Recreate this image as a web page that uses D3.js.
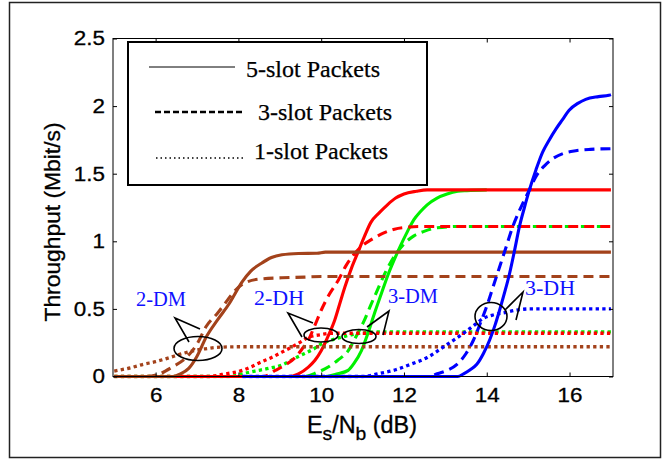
<!DOCTYPE html>
<html>
<head>
<meta charset="utf-8">
<script src="https://cdn.jsdelivr.net/npm/d3@7/dist/d3.min.js"></script>
<style>
  body { margin: 0; background: #fff; }
  svg { display: block; }
</style>
</head>
<body>
<svg id="chart" width="664" height="459"></svg>
<script>
// axis ticks
var xTicks = [6, 8, 10, 12, 14, 16];
var yTicks = [0, 0.5, 1, 1.5, 2, 2.5];

// 2-DM (brown)
var dm2Solid  = [[5,0],[6.4,0],[6.6,0.02],[6.8,0.06],[7.0,0.15],[7.22,0.29],[7.5,0.42],[7.78,0.54],[8.09,0.7],[8.3,0.78],[8.57,0.84],[8.8,0.88],[9.05,0.9],[9.45,0.91],[9.9,0.912],[10.1,0.92],[17,0.92]];
var dm2Dashed = [[5,0],[5.8,0],[6.1,0.02],[6.4,0.07],[6.74,0.14],[7.0,0.24],[7.22,0.37],[7.5,0.47],[7.7,0.55],[7.9,0.63],[8.09,0.68],[8.49,0.72],[9.05,0.73],[9.6,0.735],[10,0.74],[17,0.74]];
var dm2Dotted = [[5,0.04],[5.4,0.065],[5.7,0.09],[6.0,0.11],[6.34,0.14],[6.6,0.165],[6.9,0.19],[7.2,0.205],[7.46,0.215],[8,0.22],[17,0.22]];

// 2-DH (red)
var dh2Solid  = [[5,0],[9.2,0],[9.45,0.02],[9.69,0.07],[9.85,0.12],[10.0,0.19],[10.17,0.3],[10.33,0.42],[10.45,0.54],[10.57,0.66],[10.73,0.8],[10.89,0.92],[11.05,1.04],[11.2,1.14],[11.4,1.21],[11.6,1.27],[11.8,1.32],[12.0,1.35],[12.3,1.37],[12.56,1.38],[17,1.38]];
var dh2Dashed = [[5,0],[8.6,0],[8.89,0.045],[9.1,0.08],[9.37,0.14],[9.53,0.2],[9.69,0.27],[9.85,0.38],[10.0,0.49],[10.2,0.61],[10.41,0.71],[10.6,0.82],[10.81,0.91],[11.0,0.97],[11.2,1.01],[11.5,1.06],[11.77,1.09],[12.1,1.105],[12.4,1.11],[17,1.11]];
var dh2Dotted = [[5,0],[7.3,0],[7.6,0.015],[8.09,0.045],[8.3,0.07],[8.57,0.11],[8.8,0.14],[9.05,0.18],[9.3,0.22],[9.53,0.26],[9.69,0.29],[10.0,0.31],[10.25,0.32],[17,0.32]];

// 3-DM (green)
var dm3Solid  = [[5,0],[10.1,0],[10.4,0.02],[10.65,0.045],[10.8,0.1],[10.97,0.19],[11.13,0.32],[11.29,0.47],[11.45,0.61],[11.6,0.74],[11.76,0.86],[11.92,0.97],[12.08,1.07],[12.24,1.16],[12.4,1.22],[12.56,1.27],[12.8,1.32],[13.04,1.35],[13.3,1.37],[13.52,1.375],[14,1.38]];
var dm3Dashed = [[5,0],[9.6,0],[9.9,0.03],[10.17,0.07],[10.4,0.12],[10.65,0.19],[10.85,0.3],[11.05,0.42],[11.2,0.53],[11.36,0.64],[11.55,0.77],[11.77,0.89],[12.0,0.98],[12.24,1.04],[12.5,1.075],[12.8,1.1],[13.36,1.11],[17,1.11]];
var dm3Dotted = [[5,0],[7.8,0],[8.09,0.02],[8.4,0.04],[8.73,0.06],[9.05,0.085],[9.4,0.14],[9.6,0.17],[9.8,0.2],[10.0,0.24],[10.25,0.27],[10.49,0.29],[10.75,0.31],[11.05,0.325],[11.5,0.33],[17,0.33]];

// 3-DH (blue)
var dh3Solid  = [[8.1,0],[13.3,0],[13.44,0.02],[13.6,0.05],[13.76,0.09],[13.92,0.17],[14.07,0.27],[14.2,0.38],[14.31,0.49],[14.43,0.62],[14.55,0.76],[14.67,0.93],[14.79,1.11],[14.91,1.25],[15.03,1.38],[15.19,1.53],[15.35,1.66],[15.51,1.75],[15.67,1.83],[15.83,1.9],[15.99,1.97],[16.2,2.02],[16.39,2.05],[16.7,2.07],[16.95,2.08],[17,2.085]];
var dh3Dashed = [[8.1,0],[12.6,0],[12.8,0.02],[13.0,0.04],[13.28,0.09],[13.5,0.17],[13.68,0.27],[13.84,0.39],[14.0,0.52],[14.15,0.66],[14.31,0.81],[14.47,0.96],[14.63,1.11],[14.75,1.2],[14.87,1.28],[15.03,1.38],[15.19,1.48],[15.4,1.56],[15.59,1.61],[15.85,1.65],[16.15,1.67],[16.5,1.68],[17,1.685]];
var dh3Dotted = [[8.1,0],[11.0,0],[11.36,0.02],[11.8,0.05],[12.16,0.09],[12.56,0.14],[12.96,0.22],[13.44,0.32],[13.7,0.38],[13.92,0.43],[14.15,0.455],[14.4,0.47],[14.7,0.49],[15.03,0.5],[17,0.5]];

var legendLabels = ["5-slot Packets", "3-slot Packets", "1-slot Packets"];

var brown = "#a3421b", red = "#ff0000", green = "#00f000", blue = "#0000ff";
var dashes = { solid: null, dashed: "10,6", dotted: "3.3,3.3" };

// drawing order, last on top
var series = [
  { data: dm3Dotted, color: green, style: "dotted" },
  { data: dm3Dashed, color: green, style: "dashed" },
  { data: dm3Solid,  color: green, style: "solid" },
  { data: dh2Dotted, color: red,   style: "dotted" },
  { data: dh2Dashed, color: red,   style: "dashed" },
  { data: dh2Solid,  color: red,   style: "solid" },
  { data: dm2Dotted, color: brown, style: "dotted" },
  { data: dm2Dashed, color: brown, style: "dashed" },
  { data: dm2Solid,  color: brown, style: "solid" },
  { data: dh3Dotted, color: blue,  style: "dotted" },
  { data: dh3Dashed, color: blue,  style: "dashed" },
  { data: dh3Solid,  color: blue,  style: "solid" }
];

var svg = d3.select("#chart");
var plotL = 113, plotR = 613, plotT = 38.5, plotB = 376.5;

var x = d3.scaleLinear().domain([4.97, 17.05]).range([plotL, plotR]);
var y = d3.scaleLinear().domain([0, 2.5]).range([plotB, plotT]);

// stretch text horizontally like the reference
function stretch(sel, k) {
  sel.each(function() {
    var w = this.getComputedTextLength();
    d3.select(this).attr("textLength", w * k).attr("lengthAdjust", "spacingAndGlyphs");
  });
}

// outer frame
svg.append("rect")
  .attr("x", 9.5).attr("y", 2.5).attr("width", 651).attr("height", 455)
  .attr("fill", "none").attr("stroke", "#222").attr("stroke-width", 1.5);

svg.append("clipPath").attr("id", "plotClip")
  .append("rect").attr("x", plotL).attr("y", plotT - 2)
  .attr("width", plotR - plotL).attr("height", plotB - plotT + 4);

var line = d3.line()
  .x(function(d) { return x(d[0]); })
  .y(function(d) { return y(d[1]); })
  .curve(d3.curveMonotoneX);

var curves = svg.append("g").attr("clip-path", "url(#plotClip)");
series.forEach(function(s) {
  curves.append("path")
    .attr("d", line(s.data))
    .attr("fill", "none")
    .attr("stroke", s.color)
    .attr("stroke-width", s.style == "dotted" ? 3.3 : 3.1)
    .attr("stroke-dasharray", dashes[s.style]);
});

// axes, ticks pointing inward on all four sides
var fontSans = "'Liberation Sans', Arial, sans-serif";
var fontSerif = "'Liberation Serif', 'Times New Roman', serif";

var xAxis = svg.append("g").attr("transform", "translate(0," + plotB + ")")
  .call(d3.axisBottom(x).tickValues(xTicks).tickSize(-4).tickPadding(11).tickFormat(d3.format("d")));
var yAxis = svg.append("g").attr("transform", "translate(" + plotL + ",0)")
  .call(d3.axisLeft(y).tickValues(yTicks).tickSize(-4).tickPadding(8).tickFormat(function(d) { return d; }));
svg.append("g").attr("transform", "translate(0," + plotT + ")")
  .call(d3.axisTop(x).tickValues(xTicks).tickSize(-4).tickFormat(""));
svg.append("g").attr("transform", "translate(" + plotR + ",0)")
  .call(d3.axisRight(y).tickValues(yTicks).tickSize(-4).tickFormat(""));

svg.selectAll(".domain").remove();
svg.selectAll(".tick line").attr("stroke", "#000").attr("stroke-width", 1);
svg.selectAll(".tick text").attr("fill", "#000")
  .attr("stroke", "#000").attr("stroke-width", 0.3)
  .style("font-family", fontSans).style("font-size", "20px");
xAxis.selectAll(".tick text").attr("dy", "0.71em");
stretch(svg.selectAll(".tick text"), 1.12);

svg.append("rect")
  .attr("x", plotL).attr("y", plotT).attr("width", plotR - plotL).attr("height", plotB - plotT)
  .attr("fill", "none").attr("stroke", "#000").attr("stroke-width", 1);

// axis titles
var xTitle = svg.append("text")
  .attr("x", (plotL + plotR) / 2 - 1).attr("y", 433)
  .attr("text-anchor", "middle")
  .attr("stroke", "#000").attr("stroke-width", 0.3)
  .style("font-family", fontSans).style("font-size", "23px");
xTitle.append("tspan").text("E");
xTitle.append("tspan").attr("dy", 7).style("font-size", "19px").text("s");
xTitle.append("tspan").attr("dy", -7).text("/N");
xTitle.append("tspan").attr("dy", 7).style("font-size", "19px").text("b");
xTitle.append("tspan").attr("dy", -7).text(" (dB)");
xTitle.attr("textLength", 110).attr("lengthAdjust", "spacingAndGlyphs");

svg.append("text")
  .attr("transform", "translate(60,222) rotate(-90)")
  .attr("text-anchor", "middle")
  .attr("stroke", "#000").attr("stroke-width", 0.3)
  .style("font-family", fontSans).style("font-size", "22px")
  .attr("textLength", 199).attr("lengthAdjust", "spacingAndGlyphs")
  .text("Throughput (Mbit/s)");

// legend
var legend = svg.append("g");
legend.append("rect")
  .attr("x", 128).attr("y", 42).attr("width", 299).attr("height", 143)
  .attr("fill", "#fff").attr("stroke", "#000").attr("stroke-width", 2);

var legendRows = [
  { y: 67,  x1: 149, x2: 235, tx: 246, ty: 77,  w: 1,   dash: null },
  { y: 112, x1: 155, x2: 243, tx: 258, ty: 120, w: 2.5, dash: "6,3" },
  { y: 158, x1: 156, x2: 243, tx: 254, ty: 159, w: 1.5, dash: "1.5,3" }
];
legendRows.forEach(function(r, i) {
  legend.append("line")
    .attr("x1", r.x1).attr("x2", r.x2).attr("y1", r.y).attr("y2", r.y)
    .attr("stroke", "#000").attr("stroke-width", r.w)
    .attr("stroke-dasharray", r.dash);
  legend.append("text")
    .attr("x", r.tx).attr("y", r.ty)
    .attr("stroke", "#000").attr("stroke-width", 0.25)
    .style("font-family", fontSerif).style("font-size", "23px")
    .attr("textLength", 134).attr("lengthAdjust", "spacingAndGlyphs")
    .text(legendLabels[i]);
});

// annotations: label, ellipse and arrow
var notes = [
  { label: "2-DM", tx: 136, ty: 306, cx: 198, cy: 348.5, rx: 24, ry: 12, arrow: [[200,329],[175,318],[189,342]] },
  { label: "2-DH", tx: 254, ty: 305, cx: 321, cy: 335, rx: 17, ry: 7,  arrow: [[313,323],[288,313],[302,337]] },
  { label: "3-DM", tx: 388, ty: 303, cx: 359, cy: 336.5, rx: 17, ry: 7, arrow: [[367,327],[389,311],[383,335]] },
  { label: "3-DH", tx: 525, ty: 295, cx: 491, cy: 316.5, rx: 16, ry: 14, arrow: [[505,310],[523,292],[516,320]] }
];
var ann = svg.append("g");
notes.forEach(function(n) {
  ann.append("ellipse")
    .attr("cx", n.cx).attr("cy", n.cy).attr("rx", n.rx).attr("ry", n.ry)
    .attr("fill", "none").attr("stroke", "#000").attr("stroke-width", 1.6);
  ann.append("path")
    .attr("d", d3.line()(n.arrow))
    .attr("fill", "none").attr("stroke", "#000").attr("stroke-width", 1.6);
  ann.append("text")
    .attr("x", n.tx).attr("y", n.ty)
    .attr("fill", "#1010ff")
    .style("font-family", fontSerif).style("font-size", "20px")
    .attr("textLength", 50).attr("lengthAdjust", "spacingAndGlyphs")
    .text(n.label);
});
</script>
</body>
</html>
